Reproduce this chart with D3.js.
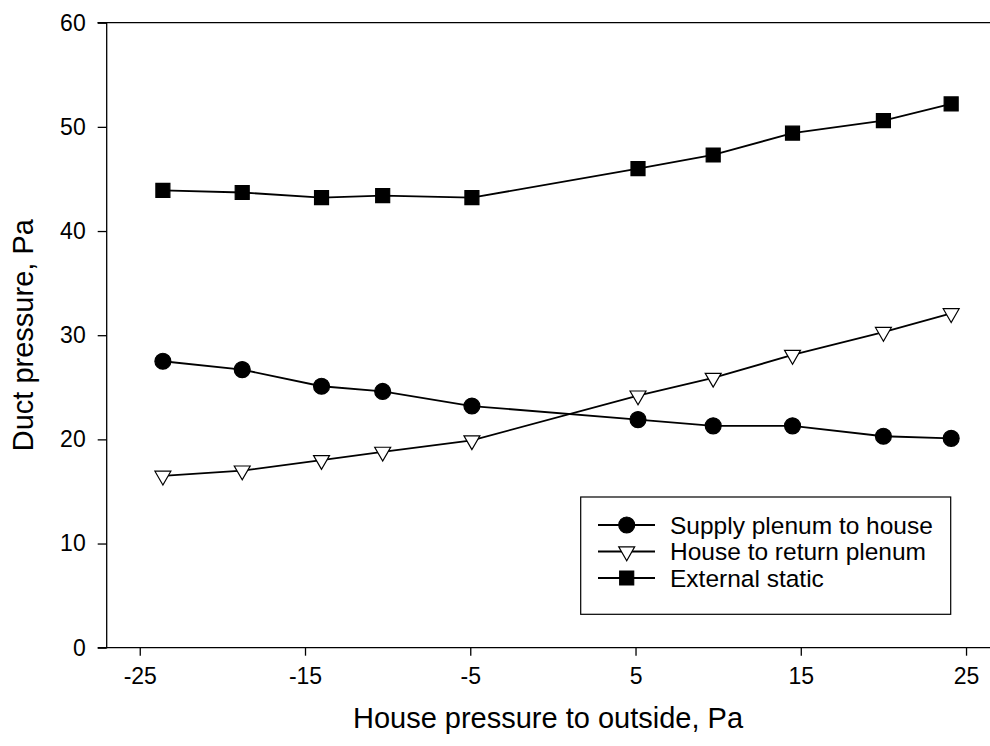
<!DOCTYPE html>
<html><head><meta charset="utf-8">
<script src="https://cdn.jsdelivr.net/npm/d3@7"></script>
<style>body{margin:0;background:#fff}svg{display:block}text{font-family:"Liberation Sans",Arial,sans-serif;fill:#000}</style>
</head><body><svg id="c" width="990" height="746"></svg>
<script>
const xValues = [-23.6, -18.8, -14.0, -10.3, -4.9, 5.15, 9.7, 14.5, 20.0, 24.1];
const supplyPlenum = [27.5, 26.7, 25.1, 24.6, 23.2, 21.9, 21.3, 21.3, 20.3, 20.1];
const returnPlenum = [16.5, 17.0, 18.0, 18.8, 19.9, 24.2, 25.9, 28.1, 30.3, 32.1];
const externalStatic = [43.9, 43.7, 43.2, 43.4, 43.2, 46.0, 47.3, 49.4, 50.6, 52.2];
const xTicks = [-25, -15, -5, 5, 15, 25];
const yTicks = [0, 10, 20, 30, 40, 50, 60];
const seriesNames = ["Supply plenum to house", "House to return plenum", "External static"];

const svg = d3.select("#c");
const x = d3.scaleLinear().domain([-27, 26.45]).range([106.7, 990]);
const y = d3.scaleLinear().domain([0, 60]).range([647.7, 22.7]);
const FONT = '"Liberation Sans",Arial,sans-serif';

// axes
const gx = svg.append("g").attr("transform", `translate(0,${y(0)})`)
  .call(d3.axisBottom(x).tickValues(xTicks).tickSize(8).tickPadding(12).tickFormat(d => String(d)));
const gy = svg.append("g").attr("transform", `translate(${x(-27)},0)`)
  .call(d3.axisLeft(y).tickValues(yTicks).tickSize(9).tickPadding(12).tickFormat(d => String(d)));
[gx, gy].forEach(g => {
  g.select(".domain").attr("stroke", "#000").attr("stroke-width", 1.3);
  g.selectAll(".tick line").attr("stroke", "#000").attr("stroke-width", 1.3);
  g.selectAll(".tick text").style("font-size", "23px").style("font-family", FONT);
});
gy.select(".domain").attr("d", `M-9,${y(0)}H0V${y(60)}H-9`);
// top frame line
svg.append("line").attr("x1", x(-27) - 9).attr("x2", x(26.45)).attr("y1", y(60)).attr("y2", y(60))
  .attr("stroke", "#000").attr("stroke-width", 1.3);
gx.select(".domain").attr("d", `M${x(-27)},0H${x(26.45)}`);

// axis titles
svg.append("text").attr("x", 548).attr("y", 728).attr("text-anchor", "middle")
  .style("font-size", "29px").text("House pressure to outside, Pa");
svg.append("text").attr("transform", `translate(33,${y(30)}) rotate(-90)`).attr("text-anchor", "middle")
  .style("font-size", "29px").text("Duct pressure, Pa");

const line = d3.line().x((d, i) => x(xValues[i])).y(d => y(d));
const series = [
  {vals: supplyPlenum, sym: d3.symbolCircle, size: 200, fill: "#000", rot: 0},
  {vals: returnPlenum, sym: d3.symbolTriangle, size: 110, fill: "#fff", rot: 180},
  {vals: externalStatic, sym: d3.symbolSquare, size: 196, fill: "#000", rot: 0}
];
series.forEach(s => {
  svg.append("path").datum(s.vals).attr("d", line).attr("fill", "none")
    .attr("stroke", "#000").attr("stroke-width", 1.8);
});
series.forEach(s => {
  svg.append("g").selectAll("path").data(s.vals).join("path")
    .attr("d", d3.symbol().type(s.sym).size(s.size))
    .attr("transform", (d, i) => `translate(${x(xValues[i])},${y(d)}) rotate(${s.rot})`)
    .attr("fill", s.fill).attr("stroke", "#000").attr("stroke-width", 1.2);
});

// legend
const lg = svg.append("g");
lg.append("rect").attr("x", 580.7).attr("y", 497).attr("width", 370).attr("height", 117.3)
  .attr("fill", "#fff").attr("stroke", "#000").attr("stroke-width", 1.2);
series.forEach((s, i) => {
  const cy = 525 + i * 26.5;
  lg.append("line").attr("x1", 598).attr("x2", 655).attr("y1", cy).attr("y2", cy)
    .attr("stroke", "#000").attr("stroke-width", 1.8);
  lg.append("path").attr("d", d3.symbol().type(s.sym).size(s.size))
    .attr("transform", `translate(626.7,${cy}) rotate(${s.rot})`)
    .attr("fill", s.fill).attr("stroke", "#000").attr("stroke-width", 1.2);
  lg.append("text").attr("x", 670).attr("y", cy + 8.5).style("font-size", "24.5px").text(seriesNames[i]);
});
</script></body></html>
